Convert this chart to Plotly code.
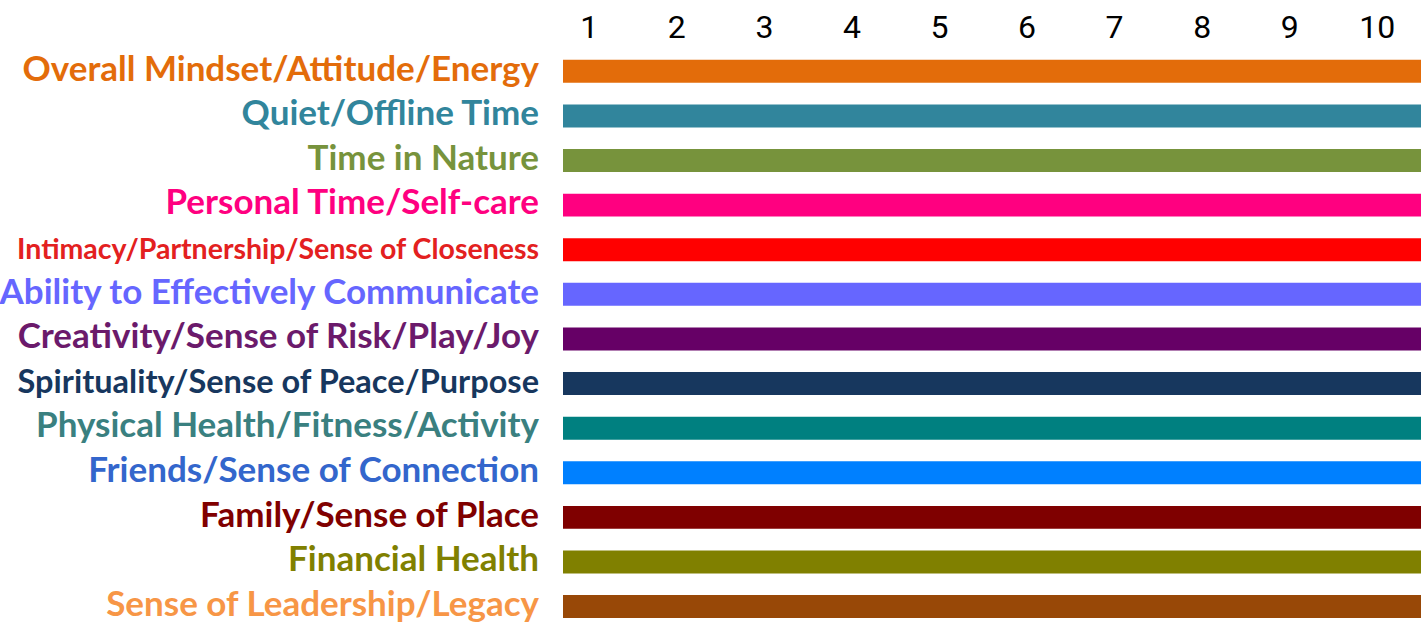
import plotly.graph_objects as go

categories = [
    "Overall Mindset/Attitude/Energy",
    "Quiet/Offline Time",
    "Time in Nature",
    "Personal Time/Self-care",
    "Intimacy/Partnership/Sense of Closeness",
    "Ability to Effectively Communicate",
    "Creativity/Sense of Risk/Play/Joy",
    "Spirituality/Sense of Peace/Purpose",
    "Physical Health/Fitness/Activity",
    "Friends/Sense of Connection",
    "Family/Sense of Place",
    "Financial Health",
    "Sense of Leadership/Legacy",
]
scores = [10] * 13
bar_colors = ["#E36C0A", "#31859C", "#77933C", "#FF0080", "#FF0000", "#6666FF",
              "#660066", "#17375E", "#008080", "#0080FF", "#7F0000", "#808000", "#984807"]
label_colors = ["#E36C0A", "#31859C", "#77933C", "#FF0080", "#E32020", "#6666FF",
                "#6B1A6B", "#17375E", "#3A8080", "#3366CC", "#800000", "#808000", "#F79646"]
label_sizes = [35, 35, 35, 35, 28.5, 35, 35, 32.5, 35, 35, 35, 35, 35]
tick_labels = [str(i) for i in range(1, 11)]

fig = go.Figure(go.Bar(
    y=categories, x=scores, base=0.5, orientation="h",
    marker=dict(color=bar_colors, line=dict(width=0)),
    width=0.515, hoverinfo="skip",
))

ticktext = [f'<span style="color:{c};font-size:{s}px"><b>{t}</b></span>'
            for t, c, s in zip(categories, label_colors, label_sizes)]

fig.update_layout(
    width=1421, height=624,
    margin=dict(l=563, r=0, t=49, b=0, autoexpand=False),
    plot_bgcolor="white", paper_bgcolor="white",
    showlegend=False,
    font=dict(family="Lato, Open Sans, sans-serif"),
    xaxis=dict(range=[0.7, 10.5], side="top", tickvals=list(range(1, 11)),
               ticktext=tick_labels, showgrid=False, zeroline=False,
               showline=False, ticks="", automargin=False,
               tickfont=dict(size=32, color="black", family="Liberation Sans Narrow, Roboto, sans-serif"),
               ticklabelstandoff=4, fixedrange=True),
    yaxis=dict(categoryorder="array", categoryarray=categories,
               range=[12.39, -0.5], tickmode="array", tickvals=categories,
               ticktext=ticktext, showgrid=False, zeroline=False,
               showline=False, ticks="", ticklabelstandoff=23, automargin=False,
               ticklabelshift=3,
               tickfont=dict(size=35, family="Lato, Open Sans, sans-serif"),
               fixedrange=True),
)

fig.write_html("out.html", config={"displayModeBar": False},
               post_script="document.body.style.margin='0';document.body.style.overflow='hidden';")
